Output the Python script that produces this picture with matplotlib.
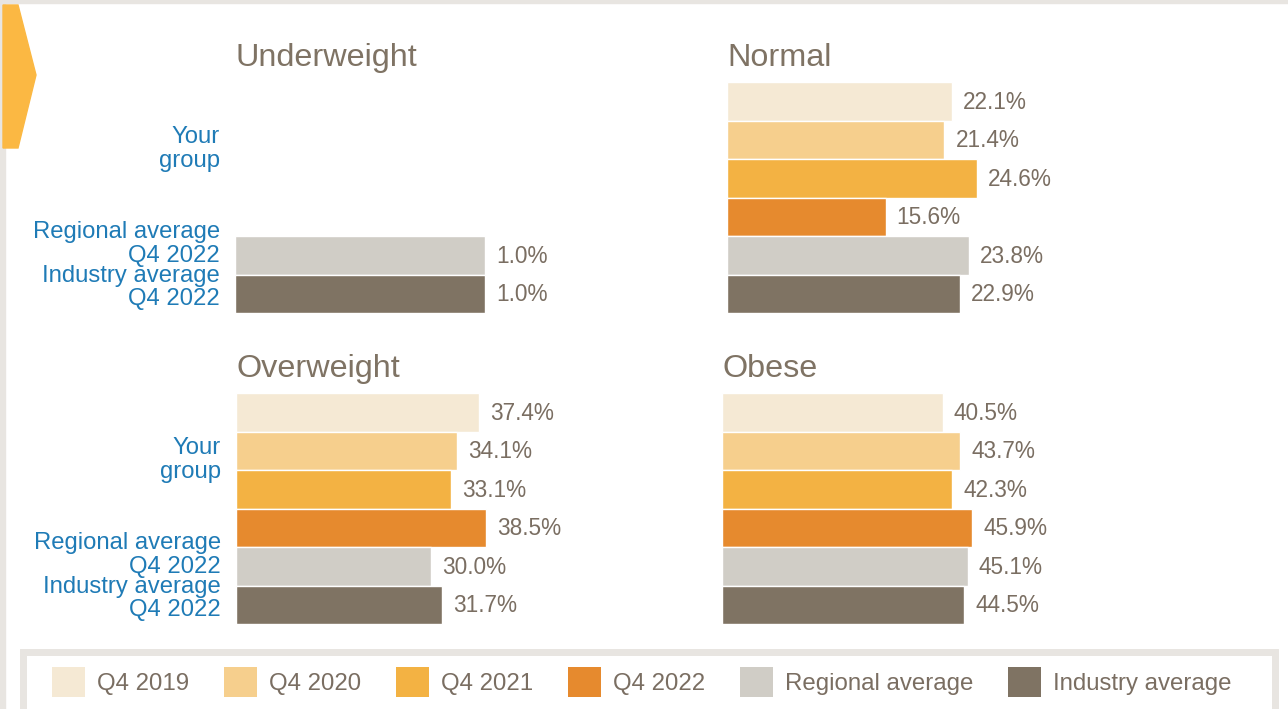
import numpy as np
import matplotlib
matplotlib.use("Agg")
import matplotlib.pyplot as plt
from matplotlib.patches import Polygon, Rectangle, Patch

plt.rcParams['font.family'] = ['Liberation Sans', 'DejaVu Sans']

# data
categories = ["Q4 2019", "Q4 2020", "Q4 2021", "Q4 2022", "Regional average", "Industry average"]
bar_colors = ["#f5e9d4", "#f6cf8d", "#f3b243", "#e68a2e", "#d0cdc6", "#7f7363"]

underweight = [np.nan, np.nan, np.nan, np.nan, 1.0, 1.0]
normal = [22.1, 21.4, 24.6, 15.6, 23.8, 22.9]
overweight = [37.4, 34.1, 33.1, 38.5, 30.0, 31.7]
obese = [40.5, 43.7, 42.3, 45.9, 45.1, 44.5]

panel_titles = ["Underweight", "Normal", "Overweight", "Obese"]
panel_values = [underweight, normal, overweight, obese]

# group labels sit a bit above the bar slots they describe
ylabel_pos = [1.15, 3.62, 4.75]
ylabel_text = ["Your\ngroup", "Regional average\nQ4 2022", "Industry average\nQ4 2022"]

title_color = "#7f7364"
value_color = "#7a6e62"
label_color = "#1f7bb6"
frame_gray = "#e8e5e1"

W, H = 1288, 709
fig = plt.figure(figsize=(W / 100, H / 100), dpi=100)

# outer frame bits + chevron
fig.patches.append(Rectangle((0, 0), 5 / W, 1, transform=fig.transFigure,
                             color=frame_gray, zorder=0))
fig.patches.append(Rectangle((0, 1 - 3 / H), 1, 3 / H, transform=fig.transFigure,
                             color=frame_gray, zorder=0))
chev = [(3, 5), (18, 5), (36, 75), (18, 148), (3, 148)]
fig.patches.append(Polygon([(x / W, 1 - y / H) for x, y in chev], closed=True,
                           transform=fig.transFigure, color="#fbb843", zorder=1))

# panels: left px, top px
panel_pos = [(235, 82), (727, 82), (236, 393), (722, 393)]
ax_w, ax_h = 330, 231

for i in range(4):
    left, top = panel_pos[i]
    ax = fig.add_axes([left / W, 1 - (top + ax_h) / H, ax_w / W, ax_h / H])
    vals = np.array(panel_values[i], dtype=float)
    y = np.arange(len(categories))
    ax.barh(y, vals, height=1.0, color=bar_colors, edgecolor="white", linewidth=1)
    vmax = np.nanmax(vals)
    ax.set_xlim(0, vmax * ax_w / 250)
    ax.set_ylim(len(categories) - 0.5, -0.5)

    for yy, v in zip(y, vals):
        if np.isnan(v):
            continue
        ax.annotate(f"{v:.1f}%", xy=(v, yy), xytext=(11, -1), textcoords="offset pixels",
                    va="center", ha="left", fontsize=16.3, color=value_color)

    ax.annotate(panel_titles[i], xy=(0, 1), xycoords="axes fraction",
                xytext=(0, 24), textcoords="offset pixels",
                va="center", ha="left", fontsize=23.3, color=title_color)

    for s in ax.spines.values():
        s.set_visible(False)
    ax.set_xticks([])
    if i % 2 == 0:
        ax.set_yticks(ylabel_pos)
        ax.set_yticklabels(ylabel_text, fontsize=17.2, color=label_color, linespacing=1.1)
        ax.tick_params(axis="y", length=0, pad=11)
    else:
        ax.set_yticks([])

# legend box
fig.patches.append(Rectangle((23 / W, -0.02), 1252 / W, 1 - 652 / H + 0.02,
                             transform=fig.transFigure, facecolor="white",
                             edgecolor=frame_gray, linewidth=5, zorder=0))
handles = [Patch(facecolor=c, edgecolor="none") for c in bar_colors]
fig.legend(handles, categories, loc="center left",
           bbox_to_anchor=(52 / W, 1 - 682 / H), ncol=6, frameon=False,
           fontsize=17.3, labelcolor=value_color, borderpad=0, borderaxespad=0,
           handlelength=1.37, handleheight=1.6, handletextpad=0.5, columnspacing=1.45)

fig.savefig("out.png", dpi=100)
